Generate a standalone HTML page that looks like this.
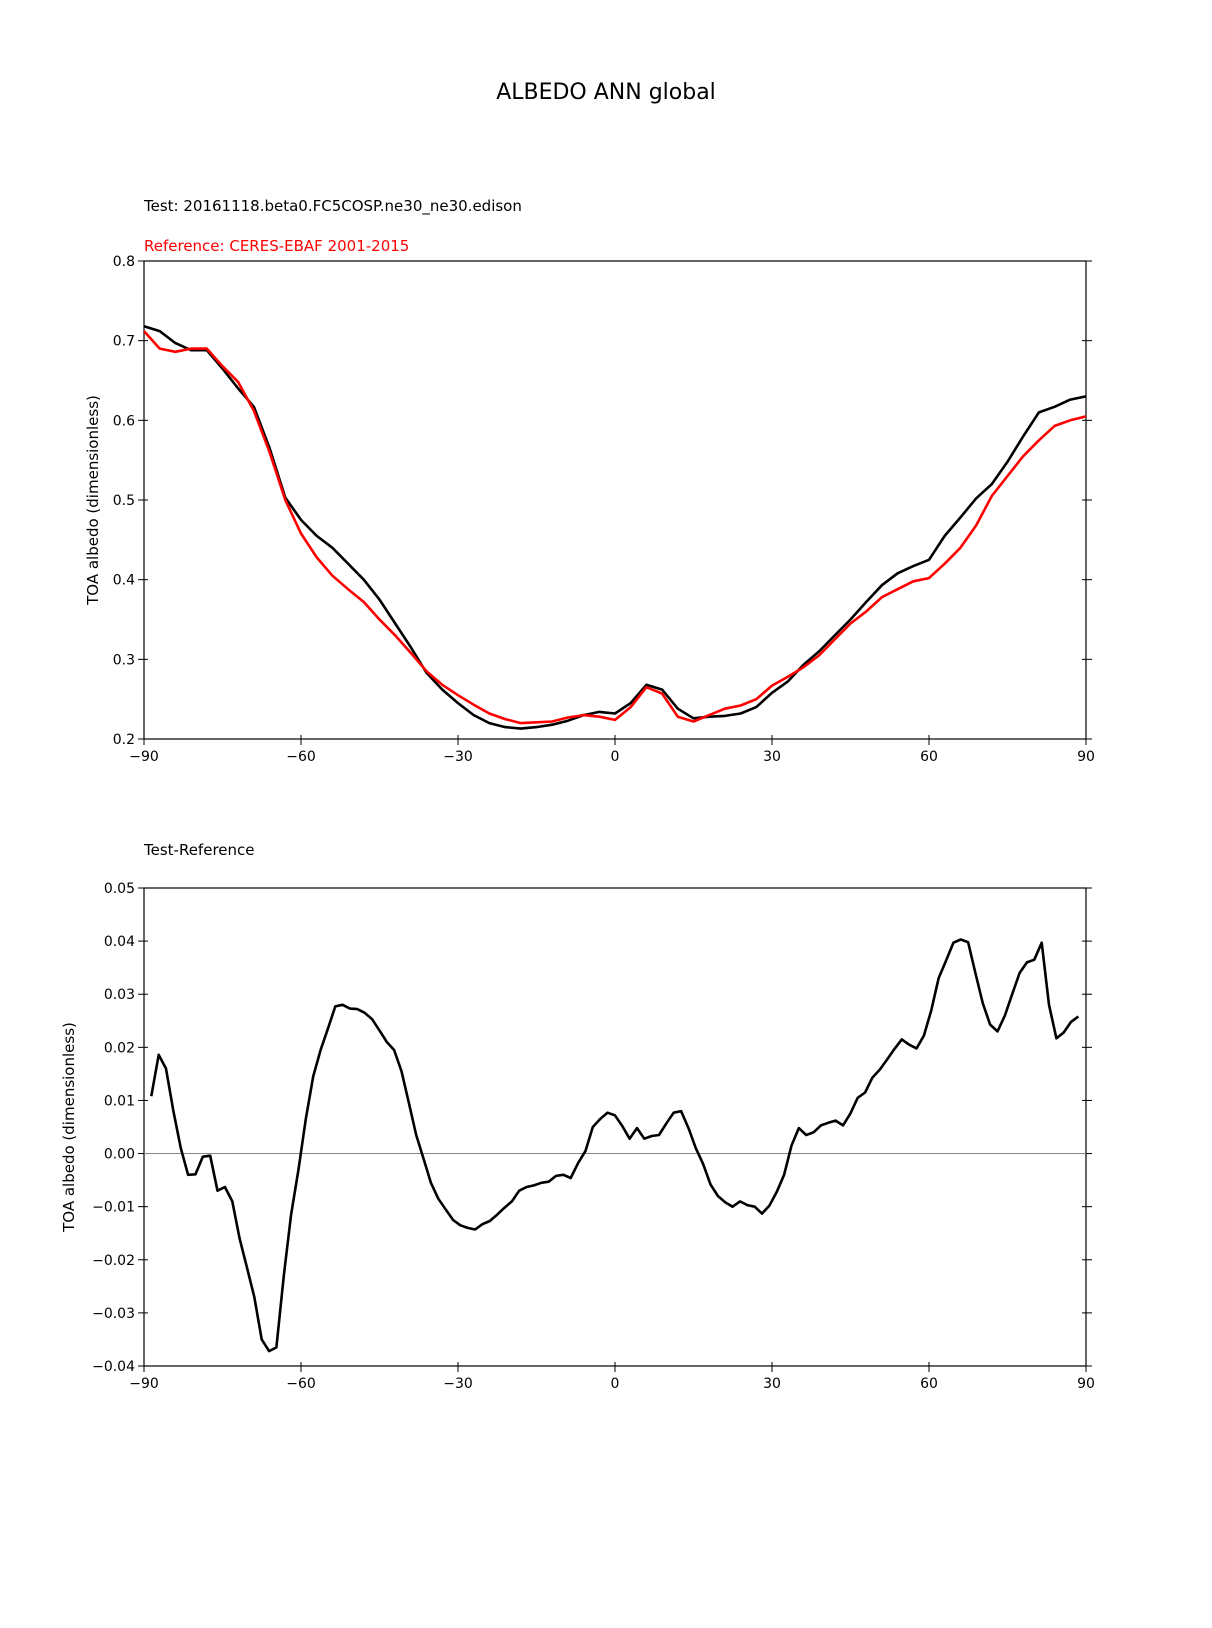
<!DOCTYPE html>
<html><head><meta charset="utf-8"><style>
html,body{margin:0;padding:0;background:#fff;}
svg{display:block;font-family:"Liberation Sans","DejaVu Sans",sans-serif;}
</style></head><body>
<svg id="fig" width="1212" height="1628" viewBox="0 0 1212 1628" xmlns="http://www.w3.org/2000/svg">
<text x="606" y="99" font-size="22" text-anchor="middle" font-family="DejaVu Sans, sans-serif">ALBEDO ANN global</text>
<text x="144" y="211" font-size="15" font-family="DejaVu Sans, sans-serif">Test: 20161118.beta0.FC5COSP.ne30_ne30.edison</text>
<text x="144" y="251" font-size="15" fill="#ff0000" font-family="DejaVu Sans, sans-serif">Reference: CERES-EBAF 2001-2015</text>
<text x="144" y="855" font-size="15" font-family="DejaVu Sans, sans-serif">Test-Reference</text>
<g id="top"></g>
<g id="bot"></g>
</svg>
<script>
const latTop = [-90,-87,-84,-81,-78,-75,-72,-69,-66,-63,-60,-57,-54,-51,-48,-45,-42,-39,-36,-33,-30,-27,-24,-21,-18,-15,-12,-9,-6,-3,0,3,6,9,12,15,18,21,24,27,30,33,36,39,42,45,48,51,54,57,60,63,66,69,72,75,78,81,84,87,90];
const testVals = [0.718,0.712,0.697,0.688,0.688,0.665,0.640,0.617,0.565,0.503,0.475,0.455,0.440,0.420,0.400,0.375,0.345,0.315,0.283,0.262,0.245,0.230,0.220,0.215,0.213,0.215,0.218,0.223,0.230,0.234,0.232,0.245,0.268,0.262,0.238,0.226,0.228,0.229,0.232,0.240,0.258,0.272,0.293,0.310,0.330,0.350,0.372,0.393,0.408,0.417,0.425,0.455,0.478,0.502,0.520,0.548,0.580,0.610,0.617,0.626,0.630];
const refVals = [0.712,0.690,0.686,0.690,0.690,0.668,0.648,0.612,0.560,0.500,0.458,0.428,0.405,0.388,0.372,0.350,0.330,0.308,0.285,0.268,0.255,0.243,0.232,0.225,0.220,0.221,0.222,0.227,0.230,0.228,0.224,0.240,0.265,0.257,0.228,0.222,0.230,0.238,0.242,0.250,0.267,0.278,0.290,0.305,0.325,0.345,0.360,0.378,0.388,0.398,0.402,0.420,0.440,0.468,0.505,0.530,0.555,0.575,0.593,0.600,0.605];
const diffLatStart = -88.6;
const diffLatStep = 1.406;
const diffVals = [0.0108,0.0186,0.016,0.008,0.001,-0.004,-0.0039,-0.0006,-0.0004,-0.007,-0.0063,-0.009,-0.016,-0.0215,-0.027,-0.035,-0.0372,-0.0365,-0.023,-0.0115,-0.003,0.0065,0.0145,0.0195,0.0235,0.0277,0.028,0.0273,0.0272,0.0265,0.0253,0.0232,0.021,0.0195,0.0155,0.0095,0.0035,-0.001,-0.0055,-0.0085,-0.0105,-0.0125,-0.0135,-0.014,-0.0143,-0.0133,-0.0127,-0.0115,-0.0102,-0.009,-0.007,-0.0063,-0.006,-0.0055,-0.0053,-0.0042,-0.004,-0.0046,-0.0018,0.0005,0.005,0.0065,0.0077,0.0072,0.0052,0.0028,0.0048,0.0028,0.0033,0.0035,0.0057,0.0077,0.008,0.0048,0.001,-0.002,-0.0058,-0.008,-0.0092,-0.01,-0.009,-0.0097,-0.01,-0.0113,-0.0098,-0.0072,-0.004,0.0015,0.0048,0.0035,0.004,0.0053,0.0058,0.0062,0.0053,0.0075,0.0105,0.0115,0.0143,0.0158,0.0177,0.0197,0.0215,0.0205,0.0198,0.0222,0.027,0.033,0.0363,0.0397,0.0403,0.0398,0.034,0.0283,0.0243,0.023,0.026,0.03,0.034,0.036,0.0365,0.0397,0.028,0.0217,0.0228,0.0248,0.0258];
const xTicks = [-90,-60,-30,0,30,60,90];
const xTickLabels = ["\u221290","\u221260","\u221230","0","30","60","90"];
const yTicksTop = [0.2,0.3,0.4,0.5,0.6,0.7,0.8];
const yTickLabelsTop = ["0.2","0.3","0.4","0.5","0.6","0.7","0.8"];
const yTicksBot = [-0.04,-0.03,-0.02,-0.01,0,0.01,0.02,0.03,0.04,0.05];
const yTickLabelsBot = ["\u22120.04","\u22120.03","\u22120.02","\u22120.01","0.00","0.01","0.02","0.03","0.04","0.05"];

const NS="http://www.w3.org/2000/svg";
function mk(parent,tag,attrs){const e=document.createElementNS(NS,tag);for(const k in attrs)e.setAttribute(k,attrs[k]);parent.appendChild(e);return e;}
function axes(g,L,R,T,B,ymin,ymax,yt,ytl,ylabelX){
  const sx=v=>L+(v+90)/180*(R-L);
  const sy=v=>B-(v-ymin)/(ymax-ymin)*(B-T);
  const fr=mk(g,'rect',{x:L,y:T,width:R-L,height:B-T,fill:'none',stroke:'#000','stroke-width':1.2});
  
  
  xTicks.forEach((v,i)=>{
    const t=mk(g,'line',{x1:sx(v),x2:sx(v),y1:B-4,y2:B+6,stroke:'#000','stroke-width':1});
    
    
    const tx=mk(g,'text',{x:sx(v),y:B+22,'font-size':14,'text-anchor':'middle','font-family':'DejaVu Sans, sans-serif'});
    tx.textContent=xTickLabels[i];
    
    
  });
  yt.forEach((v,i)=>{
    const y=sy(v);
    const t=mk(g,'line',{x1:L-6,x2:L+4,y1:y,y2:y,stroke:'#000','stroke-width':1});
    
    
    const t2=mk(g,'line',{x1:R-4,x2:R+6,y1:y,y2:y,stroke:'#000','stroke-width':1});
    
    
    const tx=mk(g,'text',{x:L-9,y:y+5,'font-size':14,'text-anchor':'end','font-family':'DejaVu Sans, sans-serif'});
    tx.textContent=ytl[i];
    
    
  });
  const yl=mk(g,'text',{x:ylabelX,y:(T+B)/2,'font-size':15,'text-anchor':'middle',transform:`rotate(-90 ${ylabelX} ${(T+B)/2})`,'font-family':'DejaVu Sans, sans-serif'});
  yl.textContent='TOA albedo (dimensionless)';
  
  
  return {sx,sy};
}
function line(g,xs,ys,sx,sy,color,name){
  const d=xs.map((x,i)=>(i?'L':'M')+sx(x).toFixed(1)+','+sy(ys[i]).toFixed(1)).join('');
  const p=mk(g,'path',{d,fill:'none',stroke:color,'stroke-width':2.6,'stroke-linejoin':'round'});
  
  
}
const gt=document.getElementById('top');
const a1=axes(gt,144,1086,261,739,0.2,0.8,yTicksTop,yTickLabelsTop,98);
line(gt,latTop,testVals,a1.sx,a1.sy,'#000','test-line');
line(gt,latTop,refVals,a1.sx,a1.sy,'#ff0000','reference-line');
const gb=document.getElementById('bot');
const a2=axes(gb,144,1086,888,1366,-0.04,0.05,yTicksBot,yTickLabelsBot,74);
const z=mk(gb,'line',{x1:144,x2:1086,y1:a2.sy(0),y2:a2.sy(0),stroke:'#888','stroke-width':1});


const diffLat=diffVals.map((v,i)=>diffLatStart+i*diffLatStep);
line(gb,diffLat,diffVals,a2.sx,a2.sy,'#000','difference-line');
</script>
</body></html>
